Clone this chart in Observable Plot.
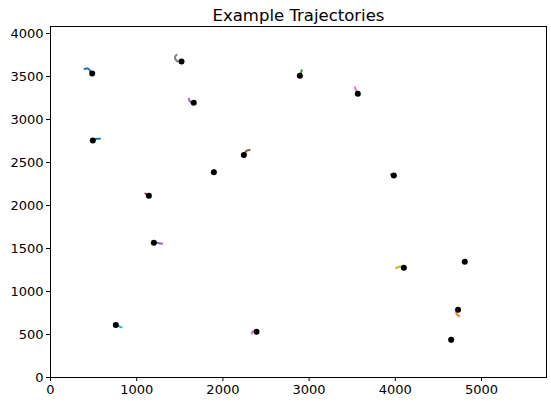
<!DOCTYPE html>
<html>
<head>
<meta charset="utf-8">
<script src="https://cdn.jsdelivr.net/npm/d3@7"></script>
<script src="https://cdn.jsdelivr.net/npm/@observablehq/plot@0.6"></script>
<style>
  html, body { margin: 0; padding: 0; background: #fff; }
</style>
</head>
<body>
<div id="chart"></div>
<script>
const title = "Example Trajectories";
const xTicks = [0, 1000, 2000, 3000, 4000, 5000];
const yTicks = [0, 500, 1000, 1500, 2000, 2500, 3000, 3500, 4000];
const xDomain = [0, 5754];
const yDomain = [0, 4082];

// matplotlib tab10 colour cycle
const palette = ["#1f77b4", "#ff7f0e", "#2ca02c", "#d62728", "#9467bd", "#8c564b", "#e377c2", "#7f7f7f", "#bcbd22", "#17becf"];

// trajectories in cycle order; last point is the current position (black dot)
const trajectories = [
  [[395, 3588], [425, 3596], [450, 3582], [466, 3555], [484, 3535]],     // blue
  [[4740, 712], [4712, 735], [4706, 760], [4728, 787]],                  // orange
  [[2915, 3575], [2905, 3540], [2892, 3508]],                           // green
  [[1100, 2140], [1141, 2113]],                                          // red
  [[1605, 3240], [1615, 3212], [1635, 3196], [1662, 3194]],              // purple
  [[3950, 2362], [3983, 2349]],                                          // brown
  [[3530, 3375], [3545, 3340], [3565, 3299]],                            // pink
  [[1462, 3752], [1445, 3732], [1446, 3704], [1470, 3678], [1520, 3674]],// gray
  [[4010, 1272], [4040, 1290], [4075, 1286], [4099, 1275]],              // olive
  [[825, 583], [790, 598], [758, 612]],                                  // cyan
  [[575, 2778], [540, 2777], [510, 2768], [491, 2756]],                  // blue
  [[4650, 410], [4648, 438]],                                            // orange
  [[1902, 2412], [1895, 2387]],                                          // green
  [[4800, 1350], [4806, 1345]],                                          // red
  [[1295, 1555], [1250, 1564], [1199, 1566]],                            // purple
  [[2310, 2645], [2272, 2636], [2243, 2589]],                            // brown
  [[2335, 510], [2343, 535], [2368, 541], [2390, 531]]                   // pink
];

const rows = trajectories.flatMap((pts, i) =>
  pts.map(([x, y]) => ({ id: i, x, y, color: palette[i % palette.length] })));
const ends = trajectories.map((pts, i) => ({ id: i, x: pts[pts.length - 1][0], y: pts[pts.length - 1][1] }));

const chart = Plot.plot({
  width: 551,
  height: 406,
  marginLeft: 50,
  marginRight: 5,
  marginTop: 26,
  marginBottom: 29,
  style: { fontFamily: "DejaVu Sans", fontSize: "13px", color: "#000", background: "#fff" },
  x: { domain: xDomain, ticks: xTicks, tickFormat: d3.format("d"), tickSize: 4, label: null },
  y: { domain: yDomain, ticks: yTicks, tickFormat: d3.format("d"), tickSize: 4, label: null },
  marks: [
    Plot.line(rows, { x: "x", y: "y", z: "id", stroke: "color", strokeWidth: 2, curve: "linear" }),
    Plot.dot(ends, { x: "x", y: "y", r: 3, fill: "black", stroke: "none" }),
    Plot.frame({ stroke: "black", strokeWidth: 1 }),
    Plot.axisX({ ticks: xTicks, tickFormat: d3.format("d"), tickSize: 4, tickPadding: 3, fontSize: 13, label: null }),
    Plot.axisY({ ticks: yTicks, tickFormat: d3.format("d"), tickSize: 4, tickPadding: 3, fontSize: 13, label: null }),
    Plot.text([title], { frameAnchor: "top", dy: -6, lineAnchor: "bottom", text: d => d, fontSize: 16.5, fill: "black" })
  ]
});
document.getElementById("chart").appendChild(chart);
</script>
</body>
</html>
